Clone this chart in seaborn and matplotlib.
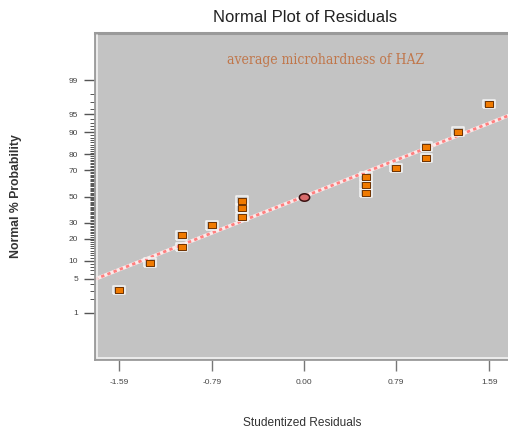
import numpy as np
import pandas as pd
import matplotlib
matplotlib.use("Agg")
import matplotlib.pyplot as plt
from matplotlib.path import Path
import seaborn as sns
from statistics import NormalDist

# Studentized residuals (sorted) and their normal % probability
residuals = [-1.59, -1.32, -1.05, -1.05, -0.79, -0.53, -0.53, -0.53, 0.00,
             0.53, 0.53, 0.53, 0.79, 1.05, 1.05, 1.32, 1.59]
probability = [3.1, 9.3, 15.7, 21.8, 28.1, 34.0, 40.8, 46.8, 50.0,
               52.7, 59.0, 65.5, 71.5, 77.9, 84.1, 90.3, 96.8]

x_ticks = [-1.59, -0.79, 0.00, 0.79, 1.59]
x_tick_labels = ["-1.59", "-0.79", "0.00", "0.79", "1.59"]
y_major = [1, 5, 10, 20, 30, 50, 70, 80, 90, 95, 99]

# reference line of the normal fit
fit_center = 0.0
fit_scale = 1.085

title = "Normal Plot of Residuals"
subtitle = "average microhardness of HAZ"
x_label = "Studentized Residuals"
y_label = "Normal % Probability"

df = pd.DataFrame({"residual": residuals, "probability": probability})
df["center"] = df["residual"] == 0.0

sns.set_style("white")
plt.rcParams["font.family"] = ["Liberation Sans", "DejaVu Sans"]

_nd = NormalDist()


def _to_z(p):
    p = np.asarray(p, dtype=float)
    q = np.clip(p / 100.0, 1e-9, 1 - 1e-9)
    return np.vectorize(_nd.inv_cdf, otypes=[float])(q) if q.ndim else _nd.inv_cdf(float(q))


def _to_p(z):
    z = np.asarray(z, dtype=float)
    return np.vectorize(_nd.cdf, otypes=[float])(z) * 100.0 if z.ndim else _nd.cdf(float(z)) * 100.0


fig = plt.figure(figsize=(5.08, 4.32), dpi=100)
ax = fig.add_axes([95 / 508, 1 - 360 / 432, 418 / 508, 327 / 432])
ax.set_facecolor("#c3c3c3")
ax.set_yscale("function", functions=(_to_z, _to_p))

xlim = (-1.794, 1.794)
ax.set_xlim(*xlim)
ax.set_ylim(_to_p(-3.27), _to_p(3.27))

# fitted normal line (white base with pink dashes)
lx = np.array(xlim)
ly = _to_p((lx - fit_center) / fit_scale)
ax.plot(lx, ly, color="#fbeaea", lw=2.6, solid_capstyle="butt", zorder=2)
ax.plot(lx, ly, color="#ff7f7f", lw=2.0, ls=(0, (1.2, 1.2)), zorder=2.1)

# rectangular marker
rect = [(-1, -0.72), (1, -0.72), (1, 0.72), (-1, 0.72), (-1, -0.72)]
t = np.linspace(0, 2 * np.pi, 40)
ellipse = Path(np.column_stack([np.cos(t), 0.72 * np.sin(t)]), closed=True)

pts = df[~df["center"]]
ctr = df[df["center"]]

sns.scatterplot(data=pts, x="residual", y="probability", marker=rect, s=70,
                facecolor="none", edgecolor="#f4f4f4", linewidth=1.1, ax=ax, zorder=3)
sns.scatterplot(data=pts, x="residual", y="probability", marker=rect, s=36,
                color="#f07a00", edgecolor="#6e3200", linewidth=0.7, ax=ax, zorder=4)
sns.scatterplot(data=ctr, x="residual", y="probability", marker=ellipse, s=55,
                color="#d86a6a", edgecolor="#3a0f0f", linewidth=1.1, ax=ax, zorder=4)

# ticks
ax.set_xticks(x_ticks)
ax.set_xticklabels(x_tick_labels)
ax.set_yticks(y_major)
ax.set_yticklabels([str(v) for v in y_major])
ax.set_yticks([v for v in range(2, 99) if v not in y_major], minor=True)
ax.tick_params(axis="x", which="major", direction="out", length=8, width=1,
               color="#777777", labelsize=6, labelcolor="#444444", pad=6, bottom=True)
ax.tick_params(axis="y", which="major", direction="out", length=8, width=1,
               color="#555555", labelsize=6, labelcolor="#444444", pad=4, left=True)
ax.tick_params(axis="y", which="minor", direction="out", length=3.5, width=0.7,
               color="#555555", left=True)

for side in ["top", "right", "left", "bottom"]:
    ax.spines[side].set_color("#9a9a9a")
    ax.spines[side].set_linewidth(1.3)
ax.spines["top"].set_linewidth(2.2)
# inner light edge on left and bottom
ax.plot([0.004, 0.004], [0.006, 0.995], transform=ax.transAxes, color="#f2f2f2",
        lw=1.2, zorder=5, clip_on=False)
ax.plot([0.004, 1.0], [0.006, 0.006], transform=ax.transAxes, color="#f2f2f2",
        lw=1.2, zorder=5, clip_on=False)

ax.set_xlabel("")
ax.set_ylabel("")
fig.text(305 / 508, 1 - 17 / 432, title, ha="center", va="center",
         fontsize=12, color="#222222")
fig.text(326 / 508, 1 - 60 / 432, subtitle, ha="center", va="center",
         fontsize=10, color="#c0764a", family="DejaVu Serif", fontstretch="condensed")
fig.text(302 / 508, 1 - 423 / 432, x_label, ha="center", va="center",
         fontsize=8.6, color="#333333")
fig.text(16 / 508, 1 - 196 / 432, y_label, ha="center", va="center",
         rotation=90, fontsize=8.8, fontweight="bold", color="#333333")

fig.savefig("out.png", dpi=100, facecolor="white")
